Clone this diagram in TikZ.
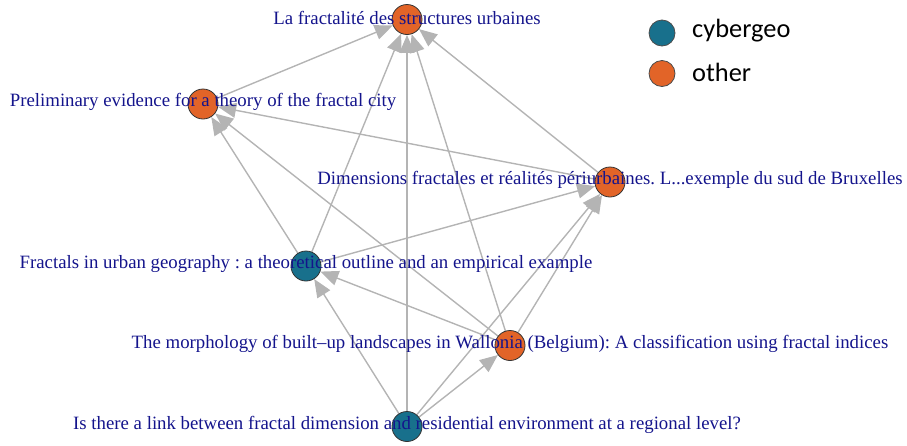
\documentclass[tikz,border=0pt]{standalone}
\usepackage{fontspec}
\setmainfont{Liberation Serif}
\newfontfamily\legfont{Carlito}
\usetikzlibrary{arrows.meta}
\pgfdeclarelayer{background}
\pgfsetlayers{background,main}
\definecolor{cyb}{RGB}{24,112,140}
\definecolor{oth}{RGB}{226,100,40}
\definecolor{lbl}{RGB}{20,20,140}
\definecolor{edg}{RGB}{180,180,180}
\frenchspacing
\tikzset{
  vtx/.style={circle,draw=black!80,line width=0.8pt,minimum size=30pt,inner sep=0pt},
  cybv/.style={vtx,fill=cyb},
  othv/.style={vtx,fill=oth},
  lab/.style={text=lbl,font=\fontsize{18.8}{22}\selectfont,inner sep=0pt,yshift=2pt},
  edge/.style={draw=edg,line width=1.4pt,-{Triangle[length=18pt,width=15pt,fill=edg]}},
  legv/.style={circle,draw=black!70,line width=0.8pt,minimum size=26pt,inner sep=0pt},
  legt/.style={font=\legfont\fontsize{26.4}{30}\selectfont,anchor=west,inner sep=0pt}
}
\begin{document}
\begin{tikzpicture}[x=1pt,y=-1pt]
\useasboundingbox (0,0) rectangle (907,445);
\node[othv] (A) at (407,19.5) {};
\node[othv] (B) at (203,104) {};
\node[othv] (C) at (610,182) {};
\node[cybv] (D) at (306,266) {};
\node[othv] (E) at (510,345.5) {};
\node[cybv] (F) at (407,426.5) {};
\begin{pgfonlayer}{background}
\draw[edge] (B) -- (A);
\draw[edge] (C) -- (A);
\draw[edge] (C) -- (B);
\draw[edge] (D) -- (A);
\draw[edge] (D) -- (B);
\draw[edge] (D) -- (C);
\draw[edge] (E) -- (A);
\draw[edge] (E) -- (B);
\draw[edge] (E) -- (C);
\draw[edge] (E) -- (D);
\draw[edge] (F) -- (A);
\draw[edge] (F) -- (C);
\draw[edge] (F) -- (D);
\draw[edge] (F) -- (E);
\end{pgfonlayer}
\node[lab] (lA) at (A) {La fractalité des structures urbaines};
\node[lab] (lB) at (B) {Preliminary evidence for a theory of the fractal city};
\node[lab] (lC) at (C) {Dimensions fractales et réalités périurbaines. L...exemple du sud de Bruxelles};
\node[lab] (lD) at (D) {Fractals in urban geography : a theoretical outline and an empirical example};
\node[lab] (lE) at (E) {The morphology of built\textendash up landscapes in Wallonia (Belgium): A classification using fractal indices};
\node[lab] (lF) at (F) {Is there a link between fractal dimension and residential environment at a regional level?};
\node[legv,fill=cyb] (k1) at (662,33) {};
\node[legv,fill=oth] (k2) at (662,73.5) {};
\node[legt] (t1) at (692,31) {cybergeo};
\node[legt] (t2) at (692,72) {other};
\end{tikzpicture}
\end{document}
